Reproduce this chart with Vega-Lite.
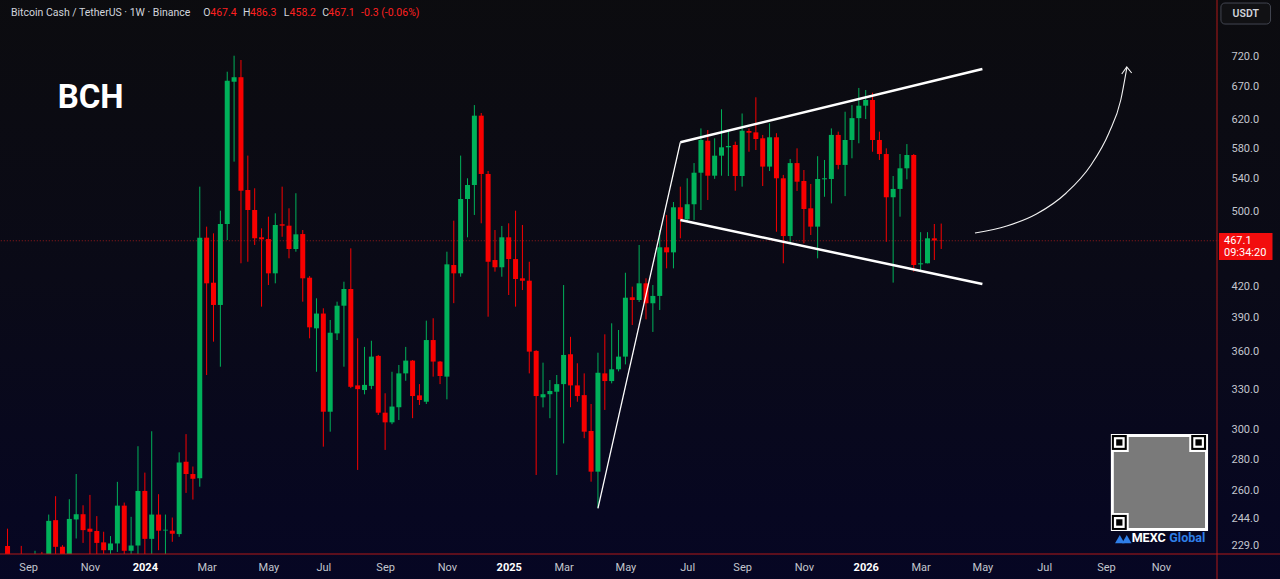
{
  "$schema": "https://vega.github.io/schema/vega-lite/v6.json",
  "width": 1222,
  "height": 554,
  "autosize": {"type": "none"},
  "padding": {"left": 0, "top": 0, "right": 58, "bottom": 25},
  "background": "#09091a",
  "config": {
    "view": {"stroke": null},
    "axis": {"labelFont": "Roboto", "labelFontSize": 11, "labelColor": "#c3c6ce", "grid": false, "ticks": false, "domain": false, "labelOverlap": false}
  },
  "datasets": {
    "bg": [{"d": "2023-07-20", "d2": "2027-03-10", "p": 900, "p2": 205}],
    "pline": [{"d": "2023-08-01", "d2": "2027-01-10", "p": 467.1}],
    "vborder": [{"d": "2026-12-29T05:00:00Z", "p": 900, "p2": 205}],
    "hborder": [{"d": "2023-07-20", "d2": "2027-03-10", "p": 224.3}],
    "candles": [
      {"d": "2023-08-14", "o": 228.5, "h": 238, "l": 212, "c": 218},
      {"d": "2023-08-21", "o": 218, "h": 222, "l": 210, "c": 216},
      {"d": "2023-08-28", "o": 216, "h": 228.6, "l": 208, "c": 214},
      {"d": "2023-09-04", "o": 214, "h": 221, "l": 206, "c": 212},
      {"d": "2023-09-11", "o": 212, "h": 226, "l": 205, "c": 215},
      {"d": "2023-09-18", "o": 215, "h": 225.4, "l": 208, "c": 213},
      {"d": "2023-09-25", "o": 213, "h": 246, "l": 211, "c": 242.4},
      {"d": "2023-10-02", "o": 242.8, "h": 256.8, "l": 223.7, "c": 228.1},
      {"d": "2023-10-09", "o": 228.1, "h": 229, "l": 218, "c": 222},
      {"d": "2023-10-16", "o": 222, "h": 255, "l": 220, "c": 243.5},
      {"d": "2023-10-23", "o": 243.2, "h": 270.5, "l": 232.6, "c": 246.2},
      {"d": "2023-10-30", "o": 246.2, "h": 251.4, "l": 230.2, "c": 237.2},
      {"d": "2023-11-06", "o": 238, "h": 257.6, "l": 223.7, "c": 236.3},
      {"d": "2023-11-13", "o": 236.7, "h": 245.1, "l": 223.7, "c": 230.2},
      {"d": "2023-11-20", "o": 230.5, "h": 236.3, "l": 224.2, "c": 226.3},
      {"d": "2023-11-27", "o": 226.3, "h": 233.9, "l": 223.7, "c": 229.9},
      {"d": "2023-12-04", "o": 229.9, "h": 265.6, "l": 225.4, "c": 251.2},
      {"d": "2023-12-11", "o": 251.2, "h": 253, "l": 222, "c": 226},
      {"d": "2023-12-18", "o": 226, "h": 244.7, "l": 222, "c": 228.8},
      {"d": "2023-12-25", "o": 228.8, "h": 288.7, "l": 222, "c": 260},
      {"d": "2024-01-01", "o": 260, "h": 271.4, "l": 222, "c": 232.4},
      {"d": "2024-01-08", "o": 232.4, "h": 299, "l": 220, "c": 246},
      {"d": "2024-01-15", "o": 246, "h": 258, "l": 226.3, "c": 236.9},
      {"d": "2024-01-22", "o": 237, "h": 246, "l": 222, "c": 237.4},
      {"d": "2024-01-29", "o": 236.9, "h": 244.3, "l": 230.8, "c": 235.2},
      {"d": "2024-02-05", "o": 235, "h": 284.6, "l": 233.5, "c": 277.9},
      {"d": "2024-02-12", "o": 278.4, "h": 297, "l": 258.8, "c": 270.5},
      {"d": "2024-02-19", "o": 270.5, "h": 275.3, "l": 254.8, "c": 267.5},
      {"d": "2024-02-26", "o": 267.8, "h": 530.2, "l": 262.6, "c": 470.5},
      {"d": "2024-03-04", "o": 470.5, "h": 482.8, "l": 341.1, "c": 422.8},
      {"d": "2024-03-11", "o": 423.4, "h": 475.3, "l": 368.8, "c": 401.9},
      {"d": "2024-03-18", "o": 401.9, "h": 501.2, "l": 347.8, "c": 485.8},
      {"d": "2024-03-25", "o": 485.8, "h": 694, "l": 467.9, "c": 679.5},
      {"d": "2024-04-01", "o": 677.9, "h": 720.5, "l": 562.2, "c": 685.1},
      {"d": "2024-04-08", "o": 685.1, "h": 713.3, "l": 443.1, "c": 525.2},
      {"d": "2024-04-15", "o": 526.1, "h": 570.2, "l": 444.7, "c": 502},
      {"d": "2024-04-22", "o": 502, "h": 528.2, "l": 462.5, "c": 469.8},
      {"d": "2024-04-29", "o": 470.9, "h": 480.9, "l": 400.3, "c": 468.7},
      {"d": "2024-05-06", "o": 469, "h": 494.2, "l": 421.1, "c": 432.8},
      {"d": "2024-05-13", "o": 432.8, "h": 498.1, "l": 422.8, "c": 484.7},
      {"d": "2024-05-20", "o": 485.5, "h": 530.2, "l": 471.5, "c": 483.9},
      {"d": "2024-05-27", "o": 483.9, "h": 504, "l": 448.3, "c": 458.2},
      {"d": "2024-06-03", "o": 458.2, "h": 522.1, "l": 455.3, "c": 474.2},
      {"d": "2024-06-10", "o": 474.5, "h": 479, "l": 405, "c": 427.8},
      {"d": "2024-06-17", "o": 428.4, "h": 430, "l": 371.7, "c": 381.4},
      {"d": "2024-06-24", "o": 380.5, "h": 408.2, "l": 343.7, "c": 393.9},
      {"d": "2024-07-01", "o": 393.9, "h": 398.8, "l": 288.4, "c": 313},
      {"d": "2024-07-08", "o": 313, "h": 388, "l": 298.7, "c": 376.6},
      {"d": "2024-07-15", "o": 376, "h": 405, "l": 370.2, "c": 401.2},
      {"d": "2024-07-22", "o": 401.2, "h": 424.4, "l": 347.8, "c": 417.2},
      {"d": "2024-07-29", "o": 417.2, "h": 458.9, "l": 330.8, "c": 331.8},
      {"d": "2024-08-05", "o": 332.9, "h": 371.7, "l": 273.1, "c": 330},
      {"d": "2024-08-12", "o": 329.3, "h": 364.3, "l": 326, "c": 333.3},
      {"d": "2024-08-19", "o": 332.5, "h": 369.6, "l": 330, "c": 356.1},
      {"d": "2024-08-26", "o": 356.7, "h": 357.5, "l": 310.6, "c": 312.3},
      {"d": "2024-09-02", "o": 312.3, "h": 326.8, "l": 286.2, "c": 305.3},
      {"d": "2024-09-09", "o": 305.3, "h": 343.7, "l": 304, "c": 316.8},
      {"d": "2024-09-16", "o": 316.3, "h": 349.2, "l": 307, "c": 342.4},
      {"d": "2024-09-23", "o": 342.4, "h": 364.3, "l": 336.5, "c": 352.8},
      {"d": "2024-09-30", "o": 352.8, "h": 353.3, "l": 308.3, "c": 324.7},
      {"d": "2024-10-07", "o": 325.2, "h": 333.9, "l": 318, "c": 321.7},
      {"d": "2024-10-14", "o": 320.4, "h": 387.4, "l": 318.7, "c": 370.2},
      {"d": "2024-10-21", "o": 370.2, "h": 389.6, "l": 339.8, "c": 352},
      {"d": "2024-10-28", "o": 352, "h": 352.5, "l": 333.9, "c": 340.3},
      {"d": "2024-11-04", "o": 339.8, "h": 455.3, "l": 322.2, "c": 442},
      {"d": "2024-11-11", "o": 441.3, "h": 489.6, "l": 403.6, "c": 432.8},
      {"d": "2024-11-18", "o": 432.8, "h": 570.2, "l": 429.4, "c": 515.1},
      {"d": "2024-11-25", "o": 515.1, "h": 540.7, "l": 470.9, "c": 532.3},
      {"d": "2024-12-02", "o": 532.3, "h": 641.8, "l": 496.2, "c": 626.1},
      {"d": "2024-12-09", "o": 626.1, "h": 630, "l": 486.6, "c": 546.2},
      {"d": "2024-12-16", "o": 546.2, "h": 550, "l": 391, "c": 444.7},
      {"d": "2024-12-23", "o": 446.5, "h": 479, "l": 434.5, "c": 439},
      {"d": "2024-12-30", "o": 439, "h": 483.6, "l": 429.4, "c": 470.9},
      {"d": "2025-01-06", "o": 470.9, "h": 486.6, "l": 411.4, "c": 447.5},
      {"d": "2025-01-13", "o": 447.5, "h": 501.2, "l": 400.3, "c": 427.1},
      {"d": "2025-01-20", "o": 427.8, "h": 484.7, "l": 416.2, "c": 425.4},
      {"d": "2025-01-27", "o": 425.4, "h": 444.7, "l": 342.4, "c": 360.3},
      {"d": "2025-02-03", "o": 360.9, "h": 361.5, "l": 269.9, "c": 324.7},
      {"d": "2025-02-10", "o": 323.7, "h": 351.1, "l": 316.2, "c": 326.1},
      {"d": "2025-02-17", "o": 326.1, "h": 337.1, "l": 308.3, "c": 328.6},
      {"d": "2025-02-24", "o": 328, "h": 341.1, "l": 269.9, "c": 333.9},
      {"d": "2025-03-03", "o": 333.9, "h": 421.1, "l": 290.6, "c": 357.5},
      {"d": "2025-03-10", "o": 358.1, "h": 373, "l": 316.3, "c": 332.9},
      {"d": "2025-03-17", "o": 332.9, "h": 350.6, "l": 320.4, "c": 324.7},
      {"d": "2025-03-24", "o": 325.4, "h": 342.4, "l": 294.2, "c": 298.7},
      {"d": "2025-03-31", "o": 299.2, "h": 318.7, "l": 265.7, "c": 272},
      {"d": "2025-04-07", "o": 272, "h": 359.4, "l": 250, "c": 342.9},
      {"d": "2025-04-14", "o": 342.4, "h": 375.2, "l": 314.3, "c": 336.3},
      {"d": "2025-04-21", "o": 336.3, "h": 385, "l": 334.5, "c": 345.7},
      {"d": "2025-04-28", "o": 345.7, "h": 379, "l": 344, "c": 356.1},
      {"d": "2025-05-05", "o": 356.1, "h": 433.4, "l": 349.7, "c": 408.8},
      {"d": "2025-05-12", "o": 409.2, "h": 419.5, "l": 383.5, "c": 406.6},
      {"d": "2025-05-19", "o": 406.6, "h": 462.5, "l": 404.7, "c": 422.8},
      {"d": "2025-05-26", "o": 422.8, "h": 427.8, "l": 388.6, "c": 403.5},
      {"d": "2025-06-02", "o": 403.5, "h": 421.1, "l": 377.3, "c": 410.5},
      {"d": "2025-06-09", "o": 410.5, "h": 479, "l": 397.2, "c": 460},
      {"d": "2025-06-16", "o": 460, "h": 496.2, "l": 437.9, "c": 454.6},
      {"d": "2025-06-23", "o": 454.6, "h": 511.5, "l": 437.9, "c": 505.2},
      {"d": "2025-06-30", "o": 505.2, "h": 530.2, "l": 469.8, "c": 491.2},
      {"d": "2025-07-07", "o": 491.2, "h": 540.7, "l": 489, "c": 508.8},
      {"d": "2025-07-14", "o": 508.8, "h": 560.3, "l": 490.4, "c": 547.8},
      {"d": "2025-07-21", "o": 547.8, "h": 607.7, "l": 502, "c": 591.4},
      {"d": "2025-07-28", "o": 590.4, "h": 605.4, "l": 513.9, "c": 544},
      {"d": "2025-08-04", "o": 544, "h": 593.8, "l": 540, "c": 570.1},
      {"d": "2025-08-11", "o": 570.1, "h": 635.5, "l": 544, "c": 581.4},
      {"d": "2025-08-18", "o": 581.4, "h": 604.4, "l": 543.6, "c": 583.2},
      {"d": "2025-08-25", "o": 584.6, "h": 589.1, "l": 525.2, "c": 543.6},
      {"d": "2025-09-01", "o": 543.6, "h": 629.3, "l": 530.2, "c": 604.4},
      {"d": "2025-09-08", "o": 604, "h": 607.7, "l": 575.4, "c": 601.6},
      {"d": "2025-09-15", "o": 602.1, "h": 653.6, "l": 577.7, "c": 592.8},
      {"d": "2025-09-22", "o": 593.8, "h": 598.5, "l": 531, "c": 555.7},
      {"d": "2025-09-29", "o": 555.7, "h": 615, "l": 550, "c": 595.2},
      {"d": "2025-10-06", "o": 595.2, "h": 600.9, "l": 477.1, "c": 540.7},
      {"d": "2025-10-13", "o": 540.7, "h": 545, "l": 443.1, "c": 472.3},
      {"d": "2025-10-20", "o": 472.3, "h": 565.7, "l": 464.3, "c": 560.3},
      {"d": "2025-10-27", "o": 560.3, "h": 580, "l": 524.9, "c": 536.4},
      {"d": "2025-11-03", "o": 537.3, "h": 551.3, "l": 464.3, "c": 503.2},
      {"d": "2025-11-10", "o": 504, "h": 533.5, "l": 473.5, "c": 482.8},
      {"d": "2025-11-17", "o": 482.8, "h": 569.4, "l": 448.3, "c": 539.8},
      {"d": "2025-11-24", "o": 539.4, "h": 564.4, "l": 517.8, "c": 540.7},
      {"d": "2025-12-01", "o": 539.8, "h": 607.7, "l": 509.8, "c": 598.5},
      {"d": "2025-12-08", "o": 598.5, "h": 603.1, "l": 552.2, "c": 557.9},
      {"d": "2025-12-15", "o": 557.9, "h": 631.9, "l": 518.6, "c": 591.4},
      {"d": "2025-12-22", "o": 591.4, "h": 641.8, "l": 566.6, "c": 622.5},
      {"d": "2025-12-29", "o": 622.5, "h": 668.1, "l": 586.9, "c": 640.9},
      {"d": "2026-01-05", "o": 640.9, "h": 664.9, "l": 621.2, "c": 649.5},
      {"d": "2026-01-12", "o": 649.5, "h": 660.7, "l": 575.4, "c": 591.4},
      {"d": "2026-01-19", "o": 591.4, "h": 603.1, "l": 564.4, "c": 572.3},
      {"d": "2026-01-26", "o": 572.3, "h": 580, "l": 466, "c": 517.2},
      {"d": "2026-02-02", "o": 517.2, "h": 543.6, "l": 423.5, "c": 527.4},
      {"d": "2026-02-09", "o": 527.4, "h": 572.3, "l": 494.2, "c": 553.5},
      {"d": "2026-02-16", "o": 553.5, "h": 585.8, "l": 539.4, "c": 571},
      {"d": "2026-02-23", "o": 571, "h": 572.3, "l": 434.5, "c": 441.3},
      {"d": "2026-03-02", "o": 442, "h": 476.6, "l": 434.5, "c": 443.1},
      {"d": "2026-03-09", "o": 443.1, "h": 476.6, "l": 443, "c": 469.8},
      {"d": "2026-03-16", "o": 469.8, "h": 485.8, "l": 446.5, "c": 467.4},
      {"d": "2026-03-23", "o": 467.4, "h": 486.3, "l": 458.2, "c": 467.1}
    ],
    "lines": [
      {"g": "upper", "d": "2025-06-30", "p": 588.2},
      {"g": "upper", "d": "2026-05-04", "p": 698.4},
      {"g": "lower", "d": "2025-06-30", "p": 490.4},
      {"g": "lower", "d": "2026-05-04", "p": 422.1},
      {"g": "pole", "d": "2025-04-07", "p": 249.6},
      {"g": "pole", "d": "2025-06-30", "p": 588.2}
    ],
    "arrow": [
      {"d": "2026-04-26T10:00:00Z", "p": 475.6},
      {"d": "2026-05-28T19:00:00Z", "p": 483.5},
      {"d": "2026-06-28T02:00:00Z", "p": 497.3},
      {"d": "2026-07-28T12:00:00Z", "p": 522.4},
      {"d": "2026-08-22T19:00:00Z", "p": 557.8},
      {"d": "2026-09-10T00:00:00Z", "p": 601.2},
      {"d": "2026-09-22T02:00:00Z", "p": 649.5},
      {"d": "2026-09-28T05:00:00Z", "p": 700.0}
    ],
    "head": [
      {"d": "2026-09-23T02:00:00Z", "p": 690.3},
      {"d": "2026-09-28T05:00:00Z", "p": 701.7},
      {"d": "2026-10-03T05:00:00Z", "p": 691.9}
    ],
    "bch": [{"d": "2023-10-04T02:00:00Z", "p": 652.6, "t": "BCH"}],
    "header": [
      {"d": "2023-08-17T12:00:00Z", "p": 796.3, "t": "Bitcoin Cash / TetherUS · 1W · Binance", "k": "t"},
      {"d": "2024-02-29T16:00:00Z", "p": 796.3, "t": "O", "k": "t"},
      {"d": "2024-03-07T17:00:00Z", "p": 796.3, "t": "467.4", "k": "v"},
      {"d": "2024-04-10T02:00:00Z", "p": 796.3, "t": "H", "k": "t"},
      {"d": "2024-04-17T05:00:00Z", "p": 796.3, "t": "486.3", "k": "v"},
      {"d": "2024-05-21T14:00:00Z", "p": 796.3, "t": "L", "k": "t"},
      {"d": "2024-05-27T14:00:00Z", "p": 796.3, "t": "458.2", "k": "v"},
      {"d": "2024-06-30T00:00:00Z", "p": 796.3, "t": "C", "k": "t"},
      {"d": "2024-07-06T02:00:00Z", "p": 796.3, "t": "467.1", "k": "v"},
      {"d": "2024-08-08T12:00:00Z", "p": 796.3, "t": "-0.3 (-0.06%)", "k": "v"}
    ],
    "qr": [
      {"d": "2026-09-12T00:00:00Z", "d2": "2026-12-20T02:00:00Z", "p": 297.1, "p2": 236.7, "k": "w"},
      {"d": "2026-09-15T00:00:00Z", "d2": "2026-12-17T00:00:00Z", "p": 295.0, "p2": 238.4, "k": "g"},
      {"d": "2026-09-13T00:00:00Z", "d2": "2026-09-30T05:00:00Z", "p": 296.4, "p2": 284.8, "k": "w"},
      {"d": "2026-11-30T22:00:00Z", "d2": "2026-12-18T02:00:00Z", "p": 296.4, "p2": 284.8, "k": "w"},
      {"d": "2026-09-13T00:00:00Z", "d2": "2026-09-30T05:00:00Z", "p": 246.9, "p2": 237.3, "k": "w"},
      {"d": "2026-09-13T00:00:00Z", "d2": "2026-09-28T05:00:00Z", "p": 296.4, "p2": 286.2, "k": "b"},
      {"d": "2026-09-15T02:00:00Z", "d2": "2026-09-26T02:00:00Z", "p": 294.9, "p2": 287.6, "k": "w"},
      {"d": "2026-09-17T10:00:00Z", "d2": "2026-09-23T19:00:00Z", "p": 293.4, "p2": 289.1, "k": "b"},
      {"d": "2026-12-02T22:00:00Z", "d2": "2026-12-18T02:00:00Z", "p": 296.4, "p2": 286.2, "k": "b"},
      {"d": "2026-12-05T00:00:00Z", "d2": "2026-12-15T22:00:00Z", "p": 294.9, "p2": 287.6, "k": "w"},
      {"d": "2026-12-07T05:00:00Z", "d2": "2026-12-13T17:00:00Z", "p": 293.4, "p2": 289.1, "k": "b"},
      {"d": "2026-09-13T00:00:00Z", "d2": "2026-09-28T05:00:00Z", "p": 245.8, "p2": 237.3, "k": "b"},
      {"d": "2026-09-15T02:00:00Z", "d2": "2026-09-26T02:00:00Z", "p": 244.6, "p2": 238.4, "k": "w"},
      {"d": "2026-09-17T10:00:00Z", "d2": "2026-09-23T19:00:00Z", "p": 243.3, "p2": 239.7, "k": "b"}
    ],
    "mexc": [
      {"d": "2026-10-03T05:00:00Z", "p": 232.9, "t": "MEXC", "k": "m"},
      {"d": "2026-11-10T14:00:00Z", "p": 232.9, "t": "Global", "k": "gl"}
    ],
    "logo": [
      {"d": "2026-09-21T02:00:00Z", "p": 232.3},
      {"d": "2026-09-28T05:00:00Z", "p": 232.3}
    ],
    "pricebox": [{"d": "2026-12-31T05:00:00Z", "d2": "2027-02-23T19:00:00Z", "p": 475.6, "p2": 446.5}],
    "pricetext": [
      {"d": "2027-01-05T07:00:00Z", "p": 467.1, "t": "467.1"},
      {"d": "2027-01-05T07:00:00Z", "p": 453.9, "t": "09:34:20"}
    ],
    "usdtbox": [{"d": "2027-01-02T05:00:00Z", "d2": "2027-02-21T19:00:00Z", "p": 815.1, "p2": 776.0}],
    "usdttext": [{"d": "2027-01-27T12:00:00Z", "p": 794.4, "t": "USDT"}]
  },
  "encoding": {
    "x": {
      "field": "d",
      "type": "temporal",
      "scale": {
        "type": "utc",
        "nice": false,
        "domain": [
          {"year": 2023, "month": 8, "date": 11, "hours": 9, "minutes": 50, "utc": true},
          {"year": 2026, "month": 12, "date": 29, "hours": 5, "utc": true}
        ]
      },
      "axis": {
        "orient": "bottom",
        "title": null,
        "zindex": 1,
        "labelPadding": 7,
        "values": [
          {"year": 2023, "month": 9, "date": 4, "utc": true},
          {"year": 2023, "month": 11, "date": 6, "utc": true},
          {"year": 2024, "month": 1, "date": 1, "utc": true},
          {"year": 2024, "month": 3, "date": 4, "utc": true},
          {"year": 2024, "month": 5, "date": 6, "utc": true},
          {"year": 2024, "month": 7, "date": 1, "utc": true},
          {"year": 2024, "month": 9, "date": 2, "utc": true},
          {"year": 2024, "month": 11, "date": 4, "utc": true},
          {"year": 2025, "month": 1, "date": 6, "utc": true},
          {"year": 2025, "month": 3, "date": 3, "utc": true},
          {"year": 2025, "month": 5, "date": 5, "utc": true},
          {"year": 2025, "month": 7, "date": 7, "utc": true},
          {"year": 2025, "month": 9, "date": 1, "utc": true},
          {"year": 2025, "month": 11, "date": 3, "utc": true},
          {"year": 2026, "month": 1, "date": 5, "utc": true},
          {"year": 2026, "month": 3, "date": 2, "utc": true},
          {"year": 2026, "month": 5, "date": 4, "utc": true},
          {"year": 2026, "month": 7, "date": 6, "utc": true},
          {"year": 2026, "month": 9, "date": 7, "utc": true},
          {"year": 2026, "month": 11, "date": 2, "utc": true}
        ],
        "labelExpr": "utcmonth(datum.value) == 0 ? utcFormat(datum.value, '%Y') : utcFormat(datum.value, '%b')",
        "labelFontWeight": {"condition": {"test": "utcmonth(datum.value) == 0", "value": "bold"}, "value": "normal"},
        "labelColor": {"condition": {"test": "utcmonth(datum.value) == 0", "value": "#ffffff"}, "value": "#c3c6ce"}
      }
    },
    "y": {
      "field": "p",
      "type": "quantitative",
      "scale": {"type": "log", "domain": [224.3, 820.9], "nice": false, "zero": false},
      "axis": {"orient": "right", "title": null, "zindex": 1, "values": [229, 244, 260, 280, 300, 330, 360, 390, 420, 500, 540, 580, 620, 670, 720], "format": ".1f", "labelPadding": 9, "labelAlign": "left"}
    }
  },
  "resolve": {"scale": {"color": "independent"}},
  "layer": [
    {
      "data": {"name": "bg"},
      "mark": {"type": "rect", "clip": false, "color": {"gradient": "linear", "x1": 0, "y1": 0, "x2": 0, "y2": 1, "stops": [{"offset": 0, "color": "#0c0c0e"}, {"offset": 0.5, "color": "#0a0a17"}, {"offset": 1, "color": "#060624"}]}},
      "encoding": {"x2": {"field": "d2"}, "y2": {"field": "p2"}}
    },
    {
      "data": {"name": "pline"},
      "mark": {"type": "rule", "color": "#9a1b1b", "strokeDash": [1, 2], "strokeWidth": 1, "clip": true},
      "encoding": {"x2": {"field": "d2"}}
    },
    {
      "data": {"name": "candles"},
      "mark": {"type": "rule", "strokeWidth": 1, "clip": true},
      "encoding": {
        "y": {"field": "l", "type": "quantitative", "scale": {"type": "log", "domain": [224.3, 820.9], "nice": false, "zero": false}, "axis": {"orient": "right", "title": null, "zindex": 1, "values": [229, 244, 260, 280, 300, 330, 360, 390, 420, 500, 540, 580, 620, 670, 720], "format": ".1f", "labelPadding": 9, "labelAlign": "left"}},
        "y2": {"field": "h"},
        "color": {"condition": {"test": "datum.c >= datum.o", "value": "#00b15a"}, "value": "#f80000"}
      }
    },
    {
      "data": {"name": "candles"},
      "mark": {"type": "bar", "size": 5, "clip": true, "minBandSize": 1},
      "encoding": {
        "y": {"field": "o", "type": "quantitative", "scale": {"type": "log", "domain": [224.3, 820.9], "nice": false, "zero": false}, "axis": {"orient": "right", "title": null, "zindex": 1, "values": [229, 244, 260, 280, 300, 330, 360, 390, 420, 500, 540, 580, 620, 670, 720], "format": ".1f", "labelPadding": 9, "labelAlign": "left"}},
        "y2": {"field": "c"},
        "color": {"condition": {"test": "datum.c >= datum.o", "value": "#00b15a"}, "value": "#f80000"}
      }
    },
    {
      "data": {"name": "vborder"},
      "mark": {"type": "rule", "color": "#b01818", "strokeWidth": 1, "clip": false},
      "encoding": {"y2": {"field": "p2"}}
    },
    {
      "data": {"name": "hborder"},
      "mark": {"type": "rule", "color": "#b01818", "strokeWidth": 1, "clip": false},
      "encoding": {"x2": {"field": "d2"}}
    },
    {
      "data": {"name": "lines"},
      "transform": [{"filter": "datum.g != 'pole'"}],
      "mark": {"type": "line", "color": "#ffffff", "strokeWidth": 2.5},
      "encoding": {"detail": {"field": "g"}}
    },
    {
      "data": {"name": "lines"},
      "transform": [{"filter": "datum.g == 'pole'"}],
      "mark": {"type": "line", "color": "#ffffff", "strokeWidth": 1.3},
      "encoding": {}
    },
    {
      "data": {"name": "arrow"},
      "mark": {"type": "line", "color": "#f2f2f2", "strokeWidth": 1.1, "interpolate": "monotone"},
      "encoding": {}
    },
    {
      "data": {"name": "head"},
      "mark": {"type": "line", "color": "#f2f2f2", "strokeWidth": 1.1},
      "encoding": {}
    },
    {
      "data": {"name": "bch"},
      "mark": {"type": "text", "font": "Roboto", "fontSize": 33, "fontWeight": "bold", "color": "#ffffff", "align": "left", "baseline": "middle"},
      "encoding": {"text": {"field": "t"}}
    },
    {
      "data": {"name": "header"},
      "mark": {"type": "text", "font": "Roboto", "fontSize": 10.5, "align": "left", "baseline": "middle"},
      "encoding": {
        "text": {"field": "t"},
        "color": {"field": "k", "type": "nominal", "scale": {"domain": ["t", "v"], "range": ["#d1d4dc", "#ff2020"]}, "legend": null}
      }
    },
    {
      "data": {"name": "qr"},
      "mark": {"type": "rect", "clip": false},
      "encoding": {
        "x2": {"field": "d2"},
        "y2": {"field": "p2"},
        "color": {"field": "k", "type": "nominal", "scale": {"domain": ["w", "g", "b"], "range": ["#ffffff", "#7a7a7a", "#000000"]}, "legend": null}
      }
    },
    {
      "data": {"name": "logo"},
      "mark": {"type": "point", "shape": "triangle-up", "filled": true, "size": 90, "color": "#2f7fe8", "opacity": 1},
      "encoding": {}
    },
    {
      "data": {"name": "mexc"},
      "mark": {"type": "text", "font": "Roboto", "fontSize": 12.5, "fontWeight": "bold", "align": "left", "baseline": "middle"},
      "encoding": {
        "text": {"field": "t"},
        "color": {"field": "k", "type": "nominal", "scale": {"domain": ["m", "gl"], "range": ["#ffffff", "#2f7fe8"]}, "legend": null}
      }
    },
    {
      "data": {"name": "pricebox"},
      "mark": {"type": "rect", "clip": false, "color": "#f20d0d"},
      "encoding": {"x2": {"field": "d2"}, "y2": {"field": "p2"}}
    },
    {
      "data": {"name": "pricetext"},
      "mark": {"type": "text", "font": "Roboto", "fontSize": 11, "color": "#ffffff", "align": "left", "baseline": "middle"},
      "encoding": {"text": {"field": "t"}}
    },
    {
      "data": {"name": "usdtbox"},
      "mark": {"type": "rect", "clip": false, "color": "#111114", "stroke": "#434651", "strokeWidth": 1, "cornerRadius": 4},
      "encoding": {"x2": {"field": "d2"}, "y2": {"field": "p2"}}
    },
    {
      "data": {"name": "usdttext"},
      "mark": {"type": "text", "font": "Roboto", "fontSize": 10.5, "fontWeight": 600, "color": "#d1d4dc", "align": "center", "baseline": "middle"},
      "encoding": {"text": {"field": "t"}}
    }
  ]
}
